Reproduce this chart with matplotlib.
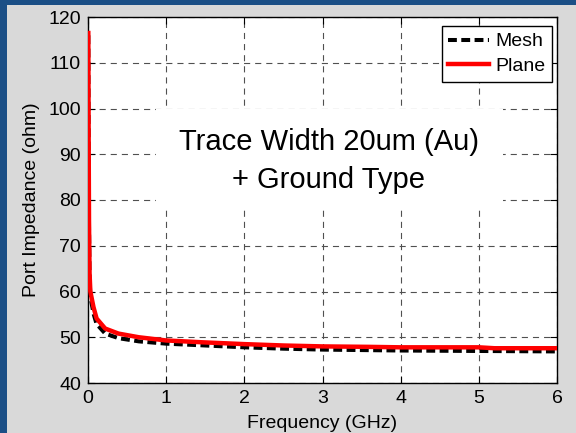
import matplotlib
matplotlib.use("Agg")
import matplotlib.pyplot as plt
from matplotlib.patches import Rectangle

plt.rcParams['font.family'] = ['Liberation Sans', 'DejaVu Sans']

# Data (frequency in GHz, impedance in ohm)
plane_freq = [0.004, 0.008, 0.013, 0.02, 0.03, 0.07, 0.11, 0.22, 0.39, 0.65, 1.0, 1.46, 2.0, 2.5, 3.0, 3.6, 4.0, 5.0, 5.2, 6.0]
plane_z = [116.5, 95.0, 75.0, 64.0, 60.0, 56.6, 54.1, 51.9, 50.8, 50.0, 49.3, 48.9, 48.5, 48.2, 48.0, 47.9, 47.8, 47.8, 47.6, 47.6]
mesh_freq = [0.004, 0.008, 0.013, 0.02, 0.03, 0.07, 0.11, 0.22, 0.39, 0.65, 1.0, 1.5, 2.0, 2.5, 3.0, 4.0, 5.0, 6.0]
mesh_z = [116.0, 94.0, 74.0, 63.0, 59.0, 55.2, 52.9, 50.8, 49.8, 49.1, 48.6, 48.2, 47.8, 47.5, 47.3, 47.1, 47.0, 46.9]
xticks = [0, 1, 2, 3, 4, 5, 6]
yticks = [40, 50, 60, 70, 80, 90, 100, 110, 120]

W, H = 576, 433
fig = plt.figure(figsize=(W / 100, H / 100), dpi=100)
fig.patch.set_facecolor('#1b4f86')
fig.add_artist(Rectangle((7 / W, 0), 1, (H - 5) / H, transform=fig.transFigure,
                         facecolor='#d9d9d9', edgecolor='none', zorder=0))

ax = fig.add_axes([88 / W, 50 / H, 469 / W, 366 / H])
ax.set_facecolor('white')

ax.plot(mesh_freq, mesh_z, color='black', lw=2.9, linestyle=(0, (2.2, 1.1)), label='Mesh', zorder=3)
ax.plot(plane_freq, plane_z, color='red', lw=3.2, label='Plane', zorder=4)

ax.set_xlim(0, 6)
ax.set_ylim(40, 120)
ax.set_xticks(xticks)
ax.set_yticks(yticks)
ax.set_axisbelow(True)
ax.grid(True, linestyle=(0, (5.5, 4.5)), color='#505050', lw=0.8)
ax.tick_params(direction='in', length=5, top=True, right=True, labelsize=14,
               pad=5, width=0.8, colors='black')
for s in ax.spines.values():
    s.set_linewidth(1.0)
    s.set_color('black')

ax.set_xlabel('Frequency (GHz)', fontsize=14, labelpad=6)
ax.set_ylabel('Port Impedance (ohm)', fontsize=14, labelpad=6)

# white box behind the annotation (hides grid)
ax.add_patch(Rectangle((0.87, 78.3), 4.44, 21.5, facecolor='white',
                       edgecolor='none', zorder=1.5))
ax.text(3.08, 88.6, 'Trace Width 20um (Au)\n+ Ground Type', fontsize=21,
        ha='center', va='center', multialignment='center', linespacing=1.45,
        zorder=2)

leg = ax.legend(loc='upper right', bbox_to_anchor=(0.9893, 0.9754), fontsize=14,
                fancybox=False, framealpha=1, edgecolor='black', borderpad=0.35,
                labelspacing=0.35, handlelength=2.1, handletextpad=0.3,
                borderaxespad=0)
leg.get_frame().set_linewidth(1.0)
leg.set_zorder(5)

fig.savefig('out.png', dpi=100, facecolor=fig.get_facecolor())
